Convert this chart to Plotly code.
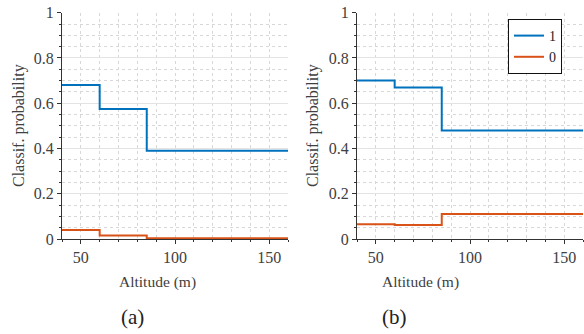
import plotly.graph_objects as go

altitude = [40, 60, 85, 160]
a_class1 = [0.68, 0.575, 0.39, 0.39]
a_class0 = [0.04, 0.015, 0.003, 0.003]
b_class1 = [0.70, 0.67, 0.48, 0.48]
b_class0 = [0.065, 0.062, 0.11, 0.11]
legend_names = ["1", "0"]
panel_labels = ["(a)", "(b)"]

BLUE = "#0072BD"
ORANGE = "#D95319"
FONT = "Liberation Serif"
TXT = "#404040"

W, H = 584, 334
def px_x(p): return p / W
def px_y(p): return 1 - p / H

fig = go.Figure()

panels = [(a_class1, a_class0, "x", "y", False), (b_class1, b_class0, "x2", "y2", True)]
for c1, c0, xa, ya, show in panels:
    fig.add_trace(go.Scatter(x=altitude, y=c1, mode="lines", line=dict(color=BLUE, width=2, shape="hv"),
                             name=legend_names[0], showlegend=show, xaxis=xa, yaxis=ya))
    fig.add_trace(go.Scatter(x=altitude, y=c0, mode="lines", line=dict(color=ORANGE, width=2, shape="hv"),
                             name=legend_names[1], showlegend=show, xaxis=xa, yaxis=ya))

ydom = [px_y(239), px_y(12.7)]
xdoms = [[px_x(62), px_x(288)], [px_x(357), px_x(583)]]

def xaxis(dom, anchor):
    return dict(domain=dom, anchor=anchor, range=[40, 160], tickvals=[50, 100, 150],
                automargin=False,
                showline=True, linecolor="#333", linewidth=1, ticks="outside", ticklen=4, tickcolor="#333",
                showgrid=True, gridcolor="#d8d8d8", griddash="dot", gridwidth=1,
                minor=dict(dtick=10, tick0=0, ticks="outside", ticklen=2, tickcolor="#333",
                           showgrid=True, gridcolor="#d8d8d8", griddash="dot", gridwidth=1),
                zeroline=False, tickfont=dict(family=FONT, size=16, color=TXT))

def yaxis(anchor):
    return dict(domain=ydom, anchor=anchor, range=[0, 1], tickvals=[0, 0.2, 0.4, 0.6, 0.8, 1],
                ticktext=["0", "0.2", "0.4", "0.6", "0.8", "1"], automargin=False,
                showline=True, linecolor="#333", linewidth=1, ticks="outside", ticklen=4, tickcolor="#333",
                showgrid=True, gridcolor="#e3e3e3", gridwidth=1,
                minor=dict(dtick=0.05, tick0=0, ticks="outside", ticklen=2, tickcolor="#333",
                           showgrid=True, gridcolor="#d8d8d8", griddash="dot", gridwidth=1),
                zeroline=False, tickfont=dict(family=FONT, size=16, color=TXT))

annotations = []
for i, (cx_title, cx_label, cx_y) in enumerate([(157, 132.5, 19), (420, 394, 313)]):
    common = dict(xref="paper", yref="paper", showarrow=False, xanchor="center", yanchor="middle")
    annotations.append(dict(text="Altitude (m)", x=px_x(cx_title), y=px_y(282),
                            font=dict(family=FONT, size=15.5, color=TXT), **common))
    annotations.append(dict(text=panel_labels[i], x=px_x(cx_label), y=px_y(317),
                            font=dict(family=FONT, size=21, color="#222"), **common))
    annotations.append(dict(text="Classif. probability", x=px_x(cx_y), y=px_y(126), textangle=-90,
                            font=dict(family=FONT, size=16, color=TXT), **common))

fig.update_layout(
    template="none",
    width=W, height=H, margin=dict(l=0, r=0, t=0, b=0, pad=0),
    paper_bgcolor="white", plot_bgcolor="white",
    font=dict(family=FONT),
    xaxis=xaxis(xdoms[0], "y"), yaxis=yaxis("x"),
    xaxis2=xaxis(xdoms[1], "y2"), yaxis2=yaxis("x2"),
    annotations=annotations,
    legend=dict(x=px_x(508), y=px_y(19), xanchor="left", yanchor="top", bgcolor="white",
                bordercolor="#111", borderwidth=1, font=dict(family=FONT, size=14, color="#222"),
                tracegroupgap=0, itemwidth=30),
)

fig.write_html("out.html")
